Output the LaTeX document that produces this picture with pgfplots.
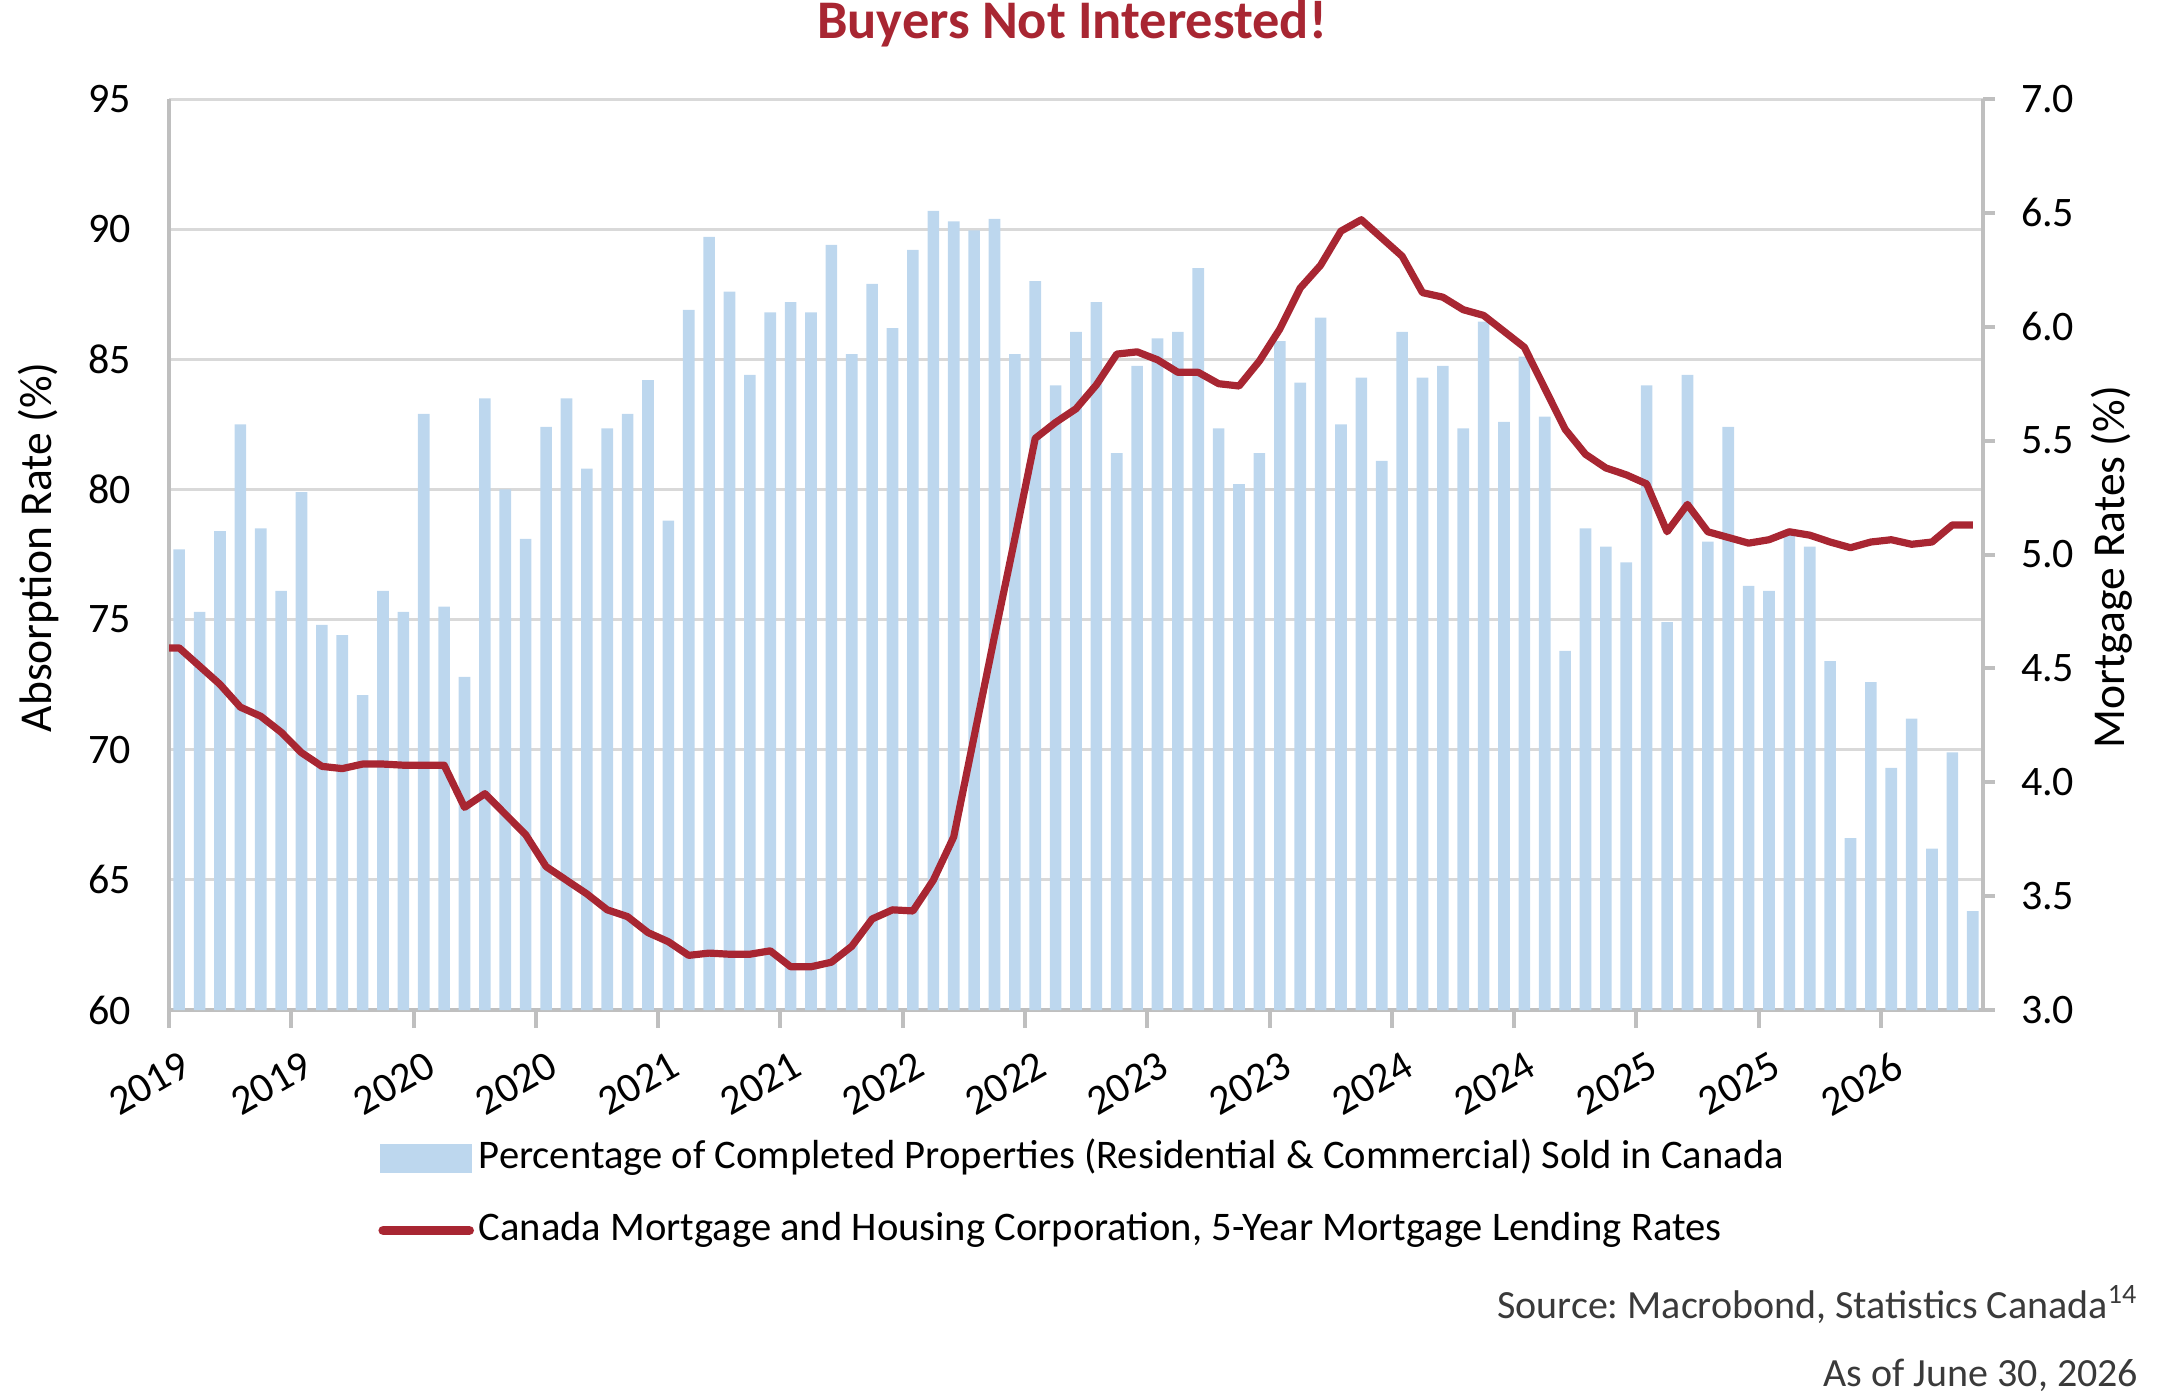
\documentclass[border=0pt]{standalone}
\usepackage{fontspec}
\setmainfont{Carlito}
\usepackage{pgfplots}
\pgfplotsset{compat=1.18}
\frenchspacing

\definecolor{barblue}{RGB}{189,215,238}
\definecolor{linered}{RGB}{168,38,50}
\definecolor{axisgray}{RGB}{191,191,191}
\definecolor{gridgray}{RGB}{217,217,217}
\definecolor{srcgray}{RGB}{58,58,58}

\pgfplotsset{
  base/.style={
    scale only axis,
    width=453.5pt, height=227.75pt,
    at={(42.25pt,-252.5pt)}, anchor=south west,
    xmin=-0.5, xmax=88.5,
    /pgf/number format/assume math mode=true,
    tick label style={font=\fontsize{10.5}{12}\selectfont, text=black},
    label style={font=\fontsize{11.4}{13}\selectfont},
    axis line style={-, draw=axisgray, line width=1pt},
    major tick length=4.5pt,
    tick style={draw=axisgray, line width=1pt},
  },
}

\begin{document}
\begin{tikzpicture}
\useasboundingbox (0,0) rectangle (540pt,-348.75pt);

% absorption rate, monthly bars
\begin{axis}[base,
  axis x line*=bottom, axis y line*=left,
  ymin=60, ymax=95, ytick={60,65,...,95},
  ymajorgrids, grid style={draw=gridgray, line width=0.75pt},
  major y tick style={draw=none},
  tick align=outside,
  xtick={-0.5,5.5,...,83.5},
  xticklabels={2019,2019,2020,2020,2021,2021,2022,2022,2023,2023,2024,2024,2025,2025,2026},
  xticklabel style={rotate=30, anchor=north east, xshift=3pt, yshift=-2.5pt},
  yticklabel style={xshift=-1.5pt},
  ylabel={Absorption Rate (\%)},
  y label style={at={(axis description cs:-0.0717,0.508)}, anchor=center},
]
\addplot[ybar, bar width=0.57, fill=barblue, draw=none] table {
x y
0 77.7
1 75.3
2 78.4
3 82.5
4 78.5
5 76.1
6 79.9
7 74.8
8 74.4
9 72.1
10 76.1
11 75.3
12 82.9
13 75.5
14 72.8
15 83.5
16 80.0
17 78.1
18 82.4
19 83.5
20 80.8
21 82.35
22 82.9
23 84.2
24 78.8
25 86.9
26 89.7
27 87.6
28 84.4
29 86.8
30 87.2
31 86.8
32 89.4
33 85.2
34 87.9
35 86.2
36 89.2
37 90.7
38 90.3
39 89.95
40 90.4
41 85.2
42 88.0
43 84.0
44 86.05
45 87.2
46 81.4
47 84.75
48 85.8
49 86.05
50 88.5
51 82.35
52 80.2
53 81.4
54 85.7
55 84.1
56 86.6
57 82.5
58 84.3
59 81.1
60 86.05
61 84.3
62 84.75
63 82.35
64 86.45
65 82.6
66 85.1
67 82.8
68 73.8
69 78.5
70 77.8
71 77.2
72 84.0
73 74.9
74 84.4
75 78.0
76 82.4
77 76.3
78 76.1
79 78.3
80 77.8
81 73.4
82 66.6
83 72.6
84 69.3
85 71.2
86 66.2
87 69.9
88 63.8
};
\end{axis}

% 5-year mortgage lending rate, right axis
\begin{axis}[base,
  axis x line=none, axis y line*=right,
  ymin=3, ymax=7, ytick={3,3.5,...,7},
  tick align=outside, major tick length=3pt,
  yticklabel style={/pgf/number format/fixed, /pgf/number format/fixed zerofill,
    /pgf/number format/precision=1, xshift=3pt},
  ylabel={Mortgage Rates (\%)},
  y label style={at={(axis description cs:1.071,0.486)}, anchor=center, rotate=0},
  legend style={draw=none, fill=none, at={(axis description cs:0.115,-0.14)},
    anchor=north west, inner sep=0pt, row sep=8pt,
    font=\fontsize{10.15}{12}\selectfont,
    nodes={inner xsep=1.2pt, inner ysep=0pt, text height=7.5pt, text depth=2.5pt}},
  legend cell align=left,
]
\addlegendimage{legend image code/.code={\fill[barblue] (0pt,-3.5pt) rectangle (22.5pt,3.5pt);}}
\addlegendentry{Percentage of Completed Properties (Residential \& Commercial) Sold in Canada}
\addplot[linered, line width=1.8pt, line join=round,
  legend image code/.code={\draw[linered, line width=2.4pt, line cap=round] (0.5pt,0pt) -- (22pt,0pt);}]
  table {
x y
-0.5 4.59
0 4.59
1 4.51
2 4.43
3 4.33
4 4.29
5 4.22
6 4.13
7 4.07
8 4.06
9 4.08
10 4.08
11 4.075
12 4.075
13 4.075
14 3.89
15 3.95
16 3.86
17 3.77
18 3.63
19 3.57
20 3.51
21 3.44
22 3.41
23 3.34
24 3.30
25 3.24
26 3.25
27 3.245
28 3.245
29 3.26
30 3.19
31 3.19
32 3.21
33 3.28
34 3.40
35 3.44
36 3.435
37 3.57
38 3.76
39 4.20
40 4.64
41 5.07
42 5.51
43 5.58
44 5.64
45 5.745
46 5.88
47 5.89
48 5.855
49 5.80
50 5.80
51 5.75
52 5.74
53 5.85
54 5.99
55 6.17
56 6.27
57 6.42
58 6.47
59 6.39
60 6.31
61 6.15
62 6.13
63 6.075
64 6.05
65 5.98
66 5.91
67 5.73
68 5.55
69 5.44
70 5.38
71 5.35
72 5.31
73 5.10
74 5.22
75 5.10
76 5.075
77 5.05
78 5.065
79 5.10
80 5.085
81 5.055
82 5.03
83 5.055
84 5.065
85 5.045
86 5.055
87 5.13
88 5.13
};
\addlegendentry{Canada Mortgage and Housing Corporation, 5-Year Mortgage Lending Rates}
\end{axis}

\node[anchor=base, text=linered, font=\fontsize{13.6}{15}\selectfont\bfseries] at (268pt,-9.7pt) {Buyers Not Interested!};
\node[anchor=base east, inner sep=0pt, text=srcgray, font=\fontsize{10}{12}\selectfont] at (534.75pt,-329.6pt) {Source: Macrobond, Statistics Canada\textsuperscript{14}};
\node[anchor=base east, inner sep=0pt, text=srcgray, font=\fontsize{10}{12}\selectfont] at (534.75pt,-346.5pt) {As of June 30, 2026};
\end{tikzpicture}
\end{document}
